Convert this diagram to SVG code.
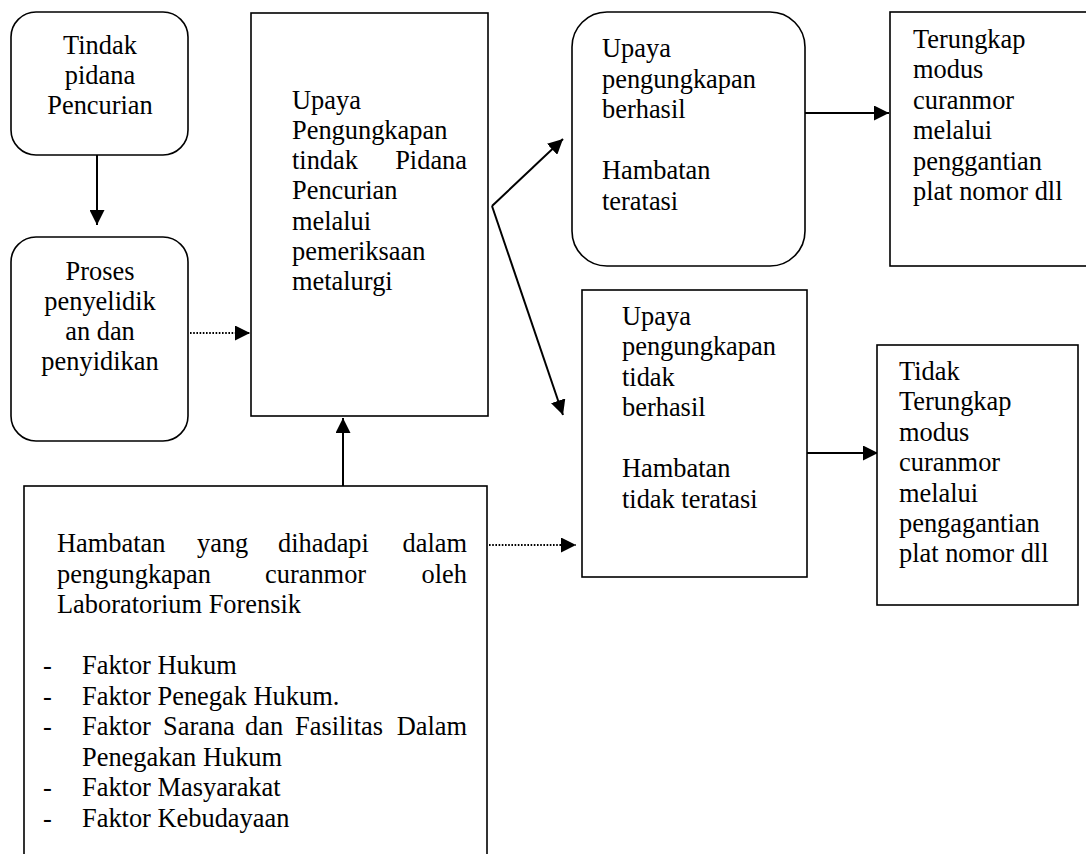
<svg xmlns="http://www.w3.org/2000/svg" width="1086" height="854" viewBox="0 0 1086 854">
<style>
.box{fill:#fff;stroke:#000;stroke-width:1.6}
.t{font-family:"Liberation Serif","Times New Roman",serif;font-size:26.4px;fill:#000}
.c{text-anchor:middle}
.e{text-anchor:end}
.ln{fill:none;stroke:#000;stroke-width:2}
.dot{fill:none;stroke:#000;stroke-width:1.8;stroke-dasharray:1.6 1.6}
</style>
<defs>
<marker id="ah" markerUnits="userSpaceOnUse" markerWidth="16" markerHeight="15" refX="15" refY="7.5" orient="auto">
<path d="M0,0 L15,7.5 L0,15 z" fill="#000"/>
</marker>
</defs>
<rect width="1086" height="854" fill="#fff"/>

<g id="connectors">
<line class="ln" x1="97" y1="155" x2="97" y2="225" marker-end="url(#ah)"/>
<line class="dot" x1="190" y1="333" x2="250" y2="333" marker-end="url(#ah)"/>
<line class="ln" x1="343" y1="486" x2="343" y2="418" marker-end="url(#ah)"/>
<line class="ln" x1="492" y1="206" x2="563" y2="139" marker-end="url(#ah)"/>
<line class="ln" x1="492" y1="206" x2="563" y2="415" marker-end="url(#ah)"/>
<line class="ln" x1="805" y1="113" x2="889" y2="113" marker-end="url(#ah)"/>
<line class="dot" x1="489" y1="545" x2="576" y2="545" marker-end="url(#ah)"/>
<line class="ln" x1="795" y1="453" x2="878" y2="453" marker-end="url(#ah)"/>
</g>

<g id="n1">
<rect class="box" x="11" y="12" width="177" height="143" rx="25"/>
<text class="t c" x="100" y="54">Tindak</text>
<text class="t c" x="100" y="84">pidana</text>
<text class="t c" x="100" y="114">Pencurian</text>
</g>

<g id="n2">
<rect class="box" x="11" y="237" width="177" height="204" rx="25"/>
<text class="t c" x="100" y="280">Proses</text>
<text class="t c" x="100" y="310">penyelidik</text>
<text class="t c" x="100" y="340">an dan</text>
<text class="t c" x="100" y="370">penyidikan</text>
</g>

<g id="n3">
<rect class="box" x="251" y="13" width="237" height="403"/>
<text class="t" x="292" y="109">Upaya</text>
<text class="t" x="292" y="139">Pengungkapan</text>
<text class="t" x="292" y="169">tindak</text>
<text class="t e" x="467" y="169">Pidana</text>
<text class="t" x="292" y="199">Pencurian</text>
<text class="t" x="292" y="230">melalui</text>
<text class="t" x="292" y="260">pemeriksaan</text>
<text class="t" x="292" y="290">metalurgi</text>
</g>

<g id="n4">
<rect class="box" x="572" y="12" width="233" height="254" rx="35"/>
<text class="t" x="602" y="57">Upaya</text>
<text class="t" x="602" y="87.5">pengungkapan</text>
<text class="t" x="602" y="118">berhasil</text>
<text class="t" x="602" y="179">Hambatan</text>
<text class="t" x="602" y="209.5">teratasi</text>
</g>

<g id="n5">
<rect class="box" x="890" y="12" width="220" height="254"/>
<text class="t" x="913" y="48">Terungkap</text>
<text class="t" x="913" y="78.4">modus</text>
<text class="t" x="913" y="108.8">curanmor</text>
<text class="t" x="913" y="139.2">melalui</text>
<text class="t" x="913" y="169.6">penggantian</text>
<text class="t" x="913" y="200">plat nomor dll</text>
</g>

<g id="n6">
<rect class="box" x="582" y="290" width="225" height="287"/>
<text class="t" x="622" y="324.5">Upaya</text>
<text class="t" x="622" y="355">pengungkapan</text>
<text class="t" x="622" y="385.5">tidak</text>
<text class="t" x="622" y="416">berhasil</text>
<text class="t" x="622" y="477">Hambatan</text>
<text class="t" x="622" y="507.5">tidak teratasi</text>
</g>

<g id="n7">
<rect class="box" x="877" y="345" width="201" height="260"/>
<text class="t" x="899" y="380">Tidak</text>
<text class="t" x="899" y="410.4">Terungkap</text>
<text class="t" x="899" y="440.8">modus</text>
<text class="t" x="899" y="471.2">curanmor</text>
<text class="t" x="899" y="501.6">melalui</text>
<text class="t" x="899" y="532">pengagantian</text>
<text class="t" x="899" y="562.4">plat nomor dll</text>
</g>

<g id="n8">
<rect class="box" x="24" y="486" width="463" height="400"/>
<text class="t" x="57" y="552">Hambatan</text>
<text class="t" x="197" y="552">yang</text>
<text class="t" x="278" y="552">dihadapi</text>
<text class="t e" x="467" y="552">dalam</text>
<text class="t" x="57" y="582.5">pengungkapan</text>
<text class="t" x="265" y="582.5">curanmor</text>
<text class="t e" x="467" y="582.5">oleh</text>
<text class="t" x="57" y="613">Laboratorium Forensik</text>
<text class="t" x="43" y="674">-</text>
<text class="t" x="82" y="674">Faktor Hukum</text>
<text class="t" x="43" y="704.5">-</text>
<text class="t" x="82" y="704.5">Faktor Penegak Hukum.</text>
<text class="t" x="43" y="735">-</text>
<text class="t" x="82" y="735">Faktor</text>
<text class="t" x="163" y="735">Sarana</text>
<text class="t" x="245" y="735">dan</text>
<text class="t" x="295" y="735">Fasilitas</text>
<text class="t e" x="467" y="735">Dalam</text>
<text class="t" x="82" y="765.5">Penegakan Hukum</text>
<text class="t" x="43" y="796">-</text>
<text class="t" x="82" y="796">Faktor Masyarakat</text>
<text class="t" x="43" y="826.5">-</text>
<text class="t" x="82" y="826.5">Faktor Kebudayaan</text>
</g>
</svg>
